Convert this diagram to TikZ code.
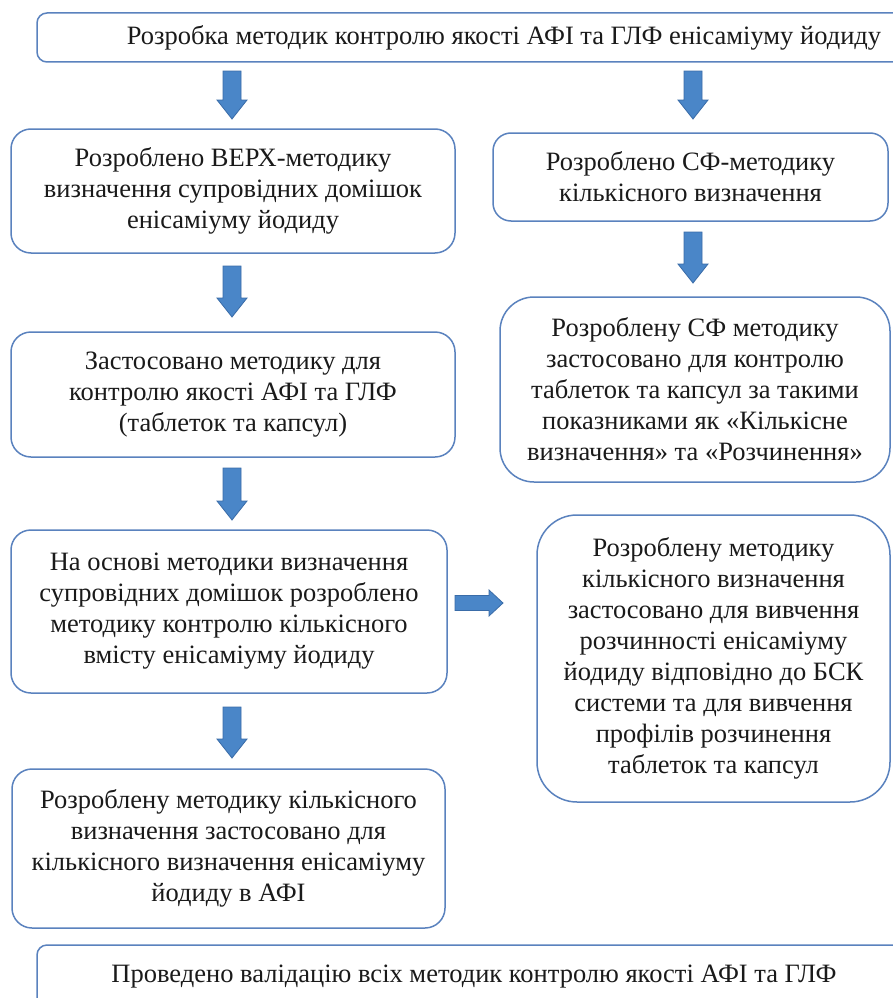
\documentclass[tikz,border=0pt]{standalone}
\usepackage{fontspec}
\setmainfont{Liberation Serif}
\definecolor{boxblue}{HTML}{5A82BE}
\definecolor{arrowblue}{HTML}{4A86C8}
\definecolor{arrowedge}{HTML}{3A6CA8}
\definecolor{txtcol}{HTML}{1A1A1A}
\newcommand\dnarrow[3]{\draw[blk] (#1-9,#2) -- (#1+9,#2) -- (#1+9,#3-19) -- (#1+15,#3-19) -- (#1,#3) -- (#1-15,#3-19) -- (#1-9,#3-19) -- cycle;}
\newcommand\rtarrow[3]{\draw[blk] (#2,#1-7.5) -- (#3-14,#1-7.5) -- (#3-14,#1-13) -- (#3,#1) -- (#3-14,#1+13) -- (#3-14,#1+7.5) -- (#2,#1+7.5) -- cycle;}
\begin{document}
\begin{tikzpicture}[x=1pt,y=-1pt]
\tikzset{
  box/.style={draw=boxblue, line width=1.5pt, fill=white, inner sep=0pt, align=center,
    font=\fontsize{26.5}{31}\selectfont, text=txtcol},
  blk/.style={fill=arrowblue, draw=arrowedge, line width=0.8pt},
}
\clip (0,0) rectangle (893,998);
\fill[white] (0,0) rectangle (893,998);
% top box
\node[box, rounded corners=10pt, minimum width=934pt, minimum height=49pt] (top) at (504,37.5)
  {Розробка методик контролю якості АФІ та ГЛФ енісаміуму йодиду};
% left column
\node[box, rounded corners=20pt, minimum width=444pt, minimum height=124pt] (L1) at (233,191)
  {Розроблено ВЕРХ-методику\\визначення супровідних домішок\\енісаміуму йодиду};
\node[box, rounded corners=20pt, minimum width=444pt, minimum height=125pt] (L2) at (233,394.5)
  {Застосовано методику для\\контролю якості АФІ та ГЛФ\\(таблеток та капсул)};
\node[box, rounded corners=20pt, minimum width=436pt, minimum height=163pt] (L3) at (229,611.5)
  {На основі методики визначення\\супровідних домішок розроблено\\методику контролю кількісного\\вмісту енісаміуму йодиду};
\node[box, rounded corners=20pt, minimum width=433pt, minimum height=159pt] (L4) at (228.5,848.5)
  {Розроблену методику кількісного\\визначення застосовано для\\кількісного визначення енісаміуму\\йодиду в АФІ};
% right column
\node[box, rounded corners=18pt, minimum width=395pt, minimum height=88pt] (R1) at (690.5,177)
  {Розроблено СФ-методику\\кількісного визначення};
\node[box, rounded corners=34pt, minimum width=390pt, minimum height=185pt] (R2) at (695,389.5)
  {Розроблену СФ методику\\застосовано для контролю\\таблеток та капсул за такими\\показниками як «Кількісне\\визначення» та «Розчинення»};
\node[box, rounded corners=40pt, minimum width=353pt, minimum height=287pt] (R3) at (713.5,658.5)
  {Розроблену методику\\кількісного визначення\\застосовано для вивчення\\розчинності енісаміуму\\йодиду відповідно до БСК\\системи та для вивчення\\профілів розчинення\\таблеток та капсул};
% bottom box
\node[box, rounded corners=10pt, minimum width=874pt, minimum height=64pt] (bot) at (474,977)
  {Проведено валідацію всіх методик контролю якості АФІ та ГЛФ};
% block arrows
\dnarrow{232}{71}{119}
\dnarrow{693}{71}{119}
\dnarrow{232}{266}{317}
\dnarrow{693}{232}{283}
\dnarrow{232}{468}{520}
\dnarrow{232}{707}{758}
\rtarrow{603}{455}{503}
\end{tikzpicture}
\end{document}
